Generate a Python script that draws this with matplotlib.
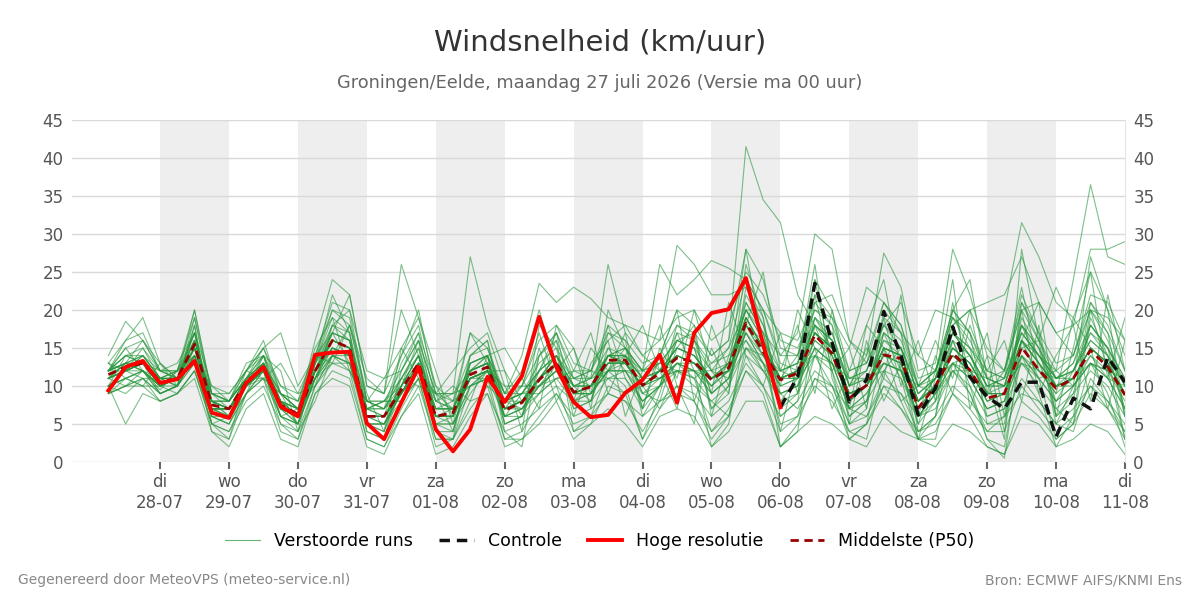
import numpy as np
import pandas as pd
import matplotlib
matplotlib.use('Agg')
import matplotlib.pyplot as plt
from matplotlib.lines import Line2D

# Tijdstappen van 6 uur, vanaf 27-07 06 UTC
tijden = pd.date_range('2026-07-27 06:00', periods=60, freq='6h')

# Hoge resolutie run (tot 06-08 00 uur)
hoge_resolutie = [9.4, 12.5, 13.3, 10.4, 10.9, 13.3, 6.5, 5.8, 10.4, 12.5, 7.3, 6.0, 14.1, 14.4, 14.5, 5.1,
                  3.0, 7.8, 12.5, 4.3, 1.4, 4.3, 11.2, 7.9, 11.3, 19.1, 12.5, 7.9, 5.9, 6.2, 9.1, 10.8,
                  14.1, 7.8, 17.0, 19.6, 20.1, 24.2, 15.5, 7.2]

# Controle run (zichtbaar vanaf 06-08 00 uur)
controle = [np.nan] * 39 + [7.2, 11.2, 23.5, 15.7, 7.9, 10.8, 19.8, 14.0, 6.2, 9.7, 17.8, 11.2, 8.6, 7.0,
                            10.5, 10.5, 3.3, 8.4, 7.0, 13.8, 10.5]

# Mediaan van de ensemble
middelste = [11.5, 12.5, 13, 10.5, 11, 15.5, 7.5, 7, 10.5, 12.5, 7.5, 6.3, 12, 16, 15, 6,
             6, 9.5, 13, 6, 6.5, 11.5, 12.5, 6.8, 7.8, 10.8, 13, 9.2, 9.9, 13.4, 13.4, 10.1,
             11.7, 13.7, 13.2, 10.8, 12.4, 18.3, 14.5, 10.8, 11.7, 16.7, 14.3, 8.4, 10.1, 14.1, 13.6, 7.1,
             10, 14.3, 12.1, 8.4, 9, 15.1, 12.1, 9.7, 11, 14.7, 12.5, 8.8]

# Verstoorde runs (ensemble leden)
leden = [
    [12, 14, 15, 11, 10, 18, 6, 5, 10, 13, 8, 5, 13, 18, 16, 5, 4, 11, 15, 5, 4, 13, 14, 5, 6, 12, 16, 10, 8, 15, 12, 8, 10, 16, 15, 9, 11, 22, 18, 9, 10, 19, 15, 7, 8, 17, 12, 6, 9, 16, 11, 7, 8, 18, 13, 8, 12, 17, 14, 7],
    [10, 11, 12, 9.5, 12, 14, 8, 8, 11, 12, 6, 7, 11, 14, 13, 7, 8, 8, 12, 7, 8, 10, 11, 8, 9, 9, 11, 12, 11, 12, 15, 12, 13, 12, 11, 13, 14, 16, 12, 12, 13, 14, 17, 10, 11, 12, 15, 9, 11, 13, 14, 10, 10, 13, 11, 12, 10, 13, 11, 10],
    [13, 16, 17, 12, 12, 20, 9, 9, 12, 15, 9, 7, 14, 21, 20, 8, 7, 14, 18, 8, 7, 17, 15, 9, 10, 16, 18, 13, 12, 18, 16, 13, 14, 20, 18, 14, 16, 28, 24, 15, 14, 24, 20, 12, 13, 21, 18, 10, 12, 20, 17, 12, 11, 22, 17, 13, 14, 21, 18, 12],
    [9, 10, 11, 8, 9, 12, 5, 4, 8, 10, 5, 3, 9, 12, 11, 3, 2, 6, 10, 3, 3, 8, 9, 4, 5, 7, 9, 6, 7, 9, 8, 6, 8, 10, 9, 6, 8, 13, 10, 6, 8, 12, 10, 5, 6, 10, 9, 4, 6, 10, 8, 5, 6, 11, 8, 5, 7, 10, 8, 5],
    [14, 18.5, 16, 12, 11, 17, 7, 6, 11, 14, 8, 6, 12, 17, 22, 10, 9, 26, 19, 10, 6, 12, 13, 6, 7, 11, 14, 11, 10, 14, 13, 10, 12, 15, 14, 11, 12, 19, 15, 11, 12, 17, 15, 9, 10, 15, 14, 8, 10, 15, 13, 9, 9, 16, 13, 10, 11, 15, 13, 9],
    [11, 13, 12, 10, 11, 16, 8, 7, 10, 12, 7, 6, 12, 15, 14, 6, 5, 9, 12, 8, 9, 27, 18, 12, 8, 10, 12, 9, 9, 12, 13, 10, 11, 13, 12, 10, 12, 17, 14, 10, 11, 16, 14, 8, 10, 14, 13, 7, 10, 14, 12, 8, 9, 15, 12, 9, 11, 14, 12, 8],
    [12, 12, 14, 11, 11, 15, 8, 7, 11, 13, 8, 7, 13, 16, 15, 7, 6, 10, 13, 7, 7, 12, 14, 9, 14, 23.5, 21, 23, 21.5, 19, 18, 17, 16, 19, 20, 16, 18, 25, 22, 16, 15, 20, 18, 12, 13, 18, 16, 10, 11, 17, 15, 11, 10, 18, 14, 11, 12, 17, 15, 11],
    [11, 12, 13, 11, 10, 15, 7, 7, 10, 12, 8, 6, 11, 16, 15, 6, 6, 9, 13, 6, 6, 11, 12, 7, 8, 11, 13, 10, 11, 26, 17, 14, 16, 28.5, 26, 22, 22, 23, 18, 12, 13, 19, 17, 10, 12, 18, 15, 9, 11, 17, 14, 10, 11, 17, 14, 11, 12, 16, 14, 10],
    [12, 13, 14, 11, 11, 16, 8, 8, 11, 13, 8, 7, 12, 17, 16, 7, 7, 10, 14, 7, 7, 12, 13, 8, 9, 12, 14, 10, 11, 14, 15, 12, 13, 16, 17, 14, 16, 41.5, 34.5, 31.5, 22, 18, 16, 11, 12, 17, 15, 10, 12, 17, 14, 10, 11, 18, 15, 11, 13, 18, 15, 11],
    [10, 11, 12, 10, 11, 14, 7, 7, 10, 12, 7, 6, 12, 15, 14, 6, 6, 9, 12, 6, 6, 11, 12, 7, 7, 10, 12, 9, 9, 13, 13, 10, 11, 13, 13, 10, 12, 18, 14, 10, 11, 16, 14, 8, 10, 14, 13, 7, 10, 14, 12, 8, 9, 16, 14, 12, 24, 36.5, 27, 26],
    [11, 12, 13, 10, 12, 17, 8, 6, 10, 13, 7, 6, 13, 17, 16, 6, 5, 10, 14, 6, 6, 12, 13, 7, 8, 11, 14, 9, 10, 14, 14, 11, 12, 15, 14, 11, 13, 20, 16, 11, 12, 18, 15, 9, 10, 16, 14, 8, 11, 17, 14, 9, 20, 31.5, 27, 21, 19, 25, 20, 14],
    [12, 13, 12, 10, 11, 15, 7, 7, 10, 12, 7, 6, 12, 16, 15, 6, 6, 9, 13, 6, 6, 11, 12, 7, 8, 11, 13, 9, 10, 14, 13, 10, 12, 14, 13, 11, 12, 19, 15, 11, 12, 18, 16, 10, 14, 27.5, 23, 12, 13, 28, 22, 14, 12, 20, 16, 11, 13, 20, 16, 10],
    [11, 12, 13, 10, 11, 15, 8, 7, 10, 12, 8, 6, 12, 16, 15, 6, 6, 9, 13, 6, 6, 11, 12, 7, 8, 11, 13, 9, 10, 13, 13, 10, 12, 14, 13, 11, 13, 20, 17, 14, 17, 30, 28, 16, 14, 21, 18, 11, 12, 19, 17, 11, 10, 18, 15, 10, 12, 18, 15, 10],
    [10, 11, 12, 9, 10, 14, 4, 3, 9, 12, 5, 4, 10, 14, 13, 4, 3, 8, 11, 3, 3, 10, 11, 3, 4, 8, 10, 4, 5, 10, 9, 3, 7, 10, 8, 3, 6, 12, 9, 2, 5, 11, 9, 3, 5, 10, 7, 3, 4, 9, 6, 2, 1, 8, 6, 3, 5, 9, 7, 3],
    [9, 10, 11, 9, 10, 13, 5, 4, 9, 11, 4, 3, 10, 13, 12, 3, 2, 7, 11, 2, 3, 7, 10, 3, 3, 6, 9, 5, 6, 9, 8, 4, 8, 9, 8, 4, 7, 12, 10, 4, 6, 10, 8, 4, 5, 9, 7, 4, 5, 9, 7, 4, 4, 10, 7, 4, 6, 10, 7, 4],
    [12, 15, 16, 12, 12, 19, 9, 8, 12, 14, 9, 8, 14, 20, 18, 8, 8, 12, 16, 9, 8, 14, 15, 8, 10, 14, 17, 12, 12, 17, 15, 12, 14, 18, 16, 12, 15, 24, 20, 14, 14, 22, 19, 11, 12, 19, 17, 10, 12, 19, 16, 11, 12, 21, 16, 12, 14, 20, 17, 12],
    [13, 12, 11, 11, 12, 14, 9, 8, 11, 11, 9, 8, 11, 13, 13, 8, 8, 8, 12, 9, 9, 10, 12, 10, 10, 10, 11, 11, 12, 11, 12, 12, 11, 12, 12, 12, 11, 15, 14, 12, 11, 14, 13, 11, 11, 13, 12, 10, 9, 12, 12, 11, 10, 13, 12, 11, 11, 13, 12, 11],
    [10, 14, 13, 9, 10, 18, 5, 3, 11, 14, 6, 4, 13, 19, 17, 4, 3, 12, 16, 4, 3, 14, 16, 5, 6, 14, 17, 7, 8, 17, 16, 6, 10, 18, 17, 7, 9, 23, 19, 6, 8, 21, 18, 5, 7, 20, 17, 4, 6, 20, 17, 5, 5, 21, 17, 6, 8, 21, 17, 6],
    [11, 12, 14, 11, 10, 14, 7, 6, 10, 13, 7, 5, 11, 15, 14, 5, 5, 9, 12, 5, 6, 12, 13, 6, 7, 10, 13, 8, 9, 12, 14, 9, 11, 13, 12, 9, 11, 17, 13, 9, 10, 15, 13, 7, 9, 13, 12, 6, 9, 13, 11, 7, 8, 14, 11, 8, 10, 13, 11, 7],
    [12, 16, 19, 13, 11, 20, 9, 8, 11, 13, 9, 7, 13, 20, 19, 8, 7, 11, 15, 8, 7, 13, 14, 9, 9, 13, 15, 11, 11, 15, 14, 11, 13, 16, 15, 12, 13, 20, 16, 12, 13, 18, 16, 10, 11, 16, 15, 9, 11, 16, 14, 10, 10, 17, 14, 11, 12, 16, 14, 10],
    [10, 5, 9, 8, 9, 12, 6, 5, 9, 11, 6, 5, 11, 14, 13, 5, 5, 8, 11, 5, 5, 10, 11, 6, 6, 9, 11, 8, 8, 11, 11, 8, 10, 12, 11, 8, 10, 15, 12, 8, 9, 14, 12, 6, 8, 12, 11, 6, 8, 12, 10, 6, 7, 13, 10, 7, 9, 12, 10, 6],
    [12, 13, 13, 11, 11, 16, 7, 7, 11, 13, 9, 7, 16, 24, 22, 10, 9, 14, 20, 9, 7, 13, 14, 8, 8, 12, 14, 10, 10, 14, 15, 11, 12, 15, 14, 11, 12, 19, 15, 11, 11, 17, 15, 9, 10, 15, 14, 8, 10, 15, 13, 9, 9, 16, 13, 10, 11, 15, 13, 9],
    [11, 12, 13, 10, 11, 15, 8, 7, 10, 12, 7, 6, 12, 16, 15, 6, 6, 9, 13, 6, 6, 11, 12, 7, 8, 11, 13, 9, 10, 13, 14, 12, 26, 22, 24, 26.5, 25.5, 24, 20, 13, 12, 17, 15, 9, 10, 15, 14, 8, 10, 15, 13, 9, 9, 16, 13, 10, 11, 15, 13, 9],
    [12, 13, 13, 11, 12, 16, 8, 7, 10, 13, 8, 6, 12, 16, 15, 6, 6, 10, 13, 6, 6, 12, 13, 7, 8, 11, 13, 9, 10, 14, 13, 10, 12, 14, 13, 10, 13, 19, 15, 11, 12, 17, 15, 9, 10, 15, 14, 8, 11, 18, 20, 21, 22, 27, 21, 17, 18, 28, 28, 29],
    [9, 10, 10, 8, 9, 11, 4, 2, 7, 9, 3, 2, 9, 11, 10, 2, 1, 6, 9, 1, 2, 6, 9, 2, 3, 5, 8, 3, 5, 7, 5, 2, 6, 7, 6, 2, 4, 8, 8, 2, 4, 6, 5, 3, 2, 6, 4, 3, 2, 5, 4, 2, 1, 6, 5, 2, 3, 5, 4, 1],
    [11, 13, 14, 11, 11, 17, 7, 6, 10, 14, 7, 5, 12, 18, 17, 5, 4, 10, 14, 4, 4, 12, 13, 5, 6, 11, 14, 7, 8, 14, 14, 7, 10, 16, 15, 7, 10, 21, 17, 7, 9, 19, 16, 6, 8, 17, 15, 5, 8, 17, 15, 6, 7, 19, 15, 6, 9, 18, 15, 6],
    [12, 13, 12, 10, 10, 14, 8, 8, 11, 12, 8, 7, 12, 15, 14, 7, 7, 9, 12, 7, 7, 11, 11, 8, 9, 10, 12, 10, 10, 12, 12, 11, 11, 12, 12, 11, 12, 16, 13, 11, 11, 15, 13, 9, 10, 13, 12, 8, 10, 13, 12, 9, 9, 14, 12, 10, 10, 13, 12, 9],
    [11, 12, 13, 11, 11, 15, 7, 7, 10, 12, 7, 6, 12, 16, 15, 6, 6, 9, 13, 6, 6, 11, 12, 7, 8, 11, 13, 9, 10, 13, 13, 10, 12, 14, 13, 11, 12, 18, 14, 11, 12, 17, 14, 8, 10, 14, 13, 7, 10, 14, 12, 8, 9, 15, 16, 23, 18, 20, 19, 16],
    [11, 12, 13, 10, 11, 15, 8, 7, 10, 12, 8, 6, 12, 16, 15, 6, 6, 9, 13, 6, 6, 11, 12, 7, 8, 11, 13, 9, 10, 13, 13, 10, 12, 14, 13, 11, 12, 18, 15, 11, 14, 20, 19, 15, 23, 21, 17, 14, 20, 19, 15, 12, 11, 17, 14, 10, 11, 15, 13, 9],
    [10, 12, 12, 9, 10, 14, 6, 6, 9, 12, 6, 5, 11, 15, 14, 5, 5, 9, 12, 5, 5, 10, 12, 6, 7, 10, 12, 8, 9, 12, 12, 9, 10, 13, 12, 9, 11, 17, 13, 9, 10, 15, 13, 7, 9, 13, 12, 6, 9, 13, 11, 7, 8, 14, 11, 8, 10, 14, 11, 7],
    [12, 14, 13, 12, 11, 16, 9, 8, 12, 15, 17, 10, 14, 17, 16, 8, 7, 11, 14, 7, 7, 12, 13, 8, 9, 12, 14, 10, 10, 14, 14, 11, 12, 15, 14, 11, 13, 19, 15, 11, 12, 17, 15, 9, 10, 15, 14, 8, 10, 15, 13, 9, 10, 16, 13, 10, 11, 15, 13, 9],
    [11, 12, 13, 10, 11, 15, 7, 7, 10, 12, 7, 6, 12, 16, 15, 6, 6, 9, 13, 6, 6, 11, 12, 7, 8, 11, 13, 9, 9, 12, 12, 8, 10, 13, 11, 4, 6, 15, 13, 5, 6, 14, 10, 4, 3, 12, 8, 3, 3, 13, 9, 3, 0.5, 16, 11, 3, 5, 13, 9, 2],
    [10, 12, 15, 12, 13, 17, 10, 9, 12, 11, 13, 9, 10, 18, 20, 12, 11, 15, 11, 9, 12, 15, 17, 10, 6, 15, 8, 12, 17, 9, 14, 18, 12, 7, 16, 9, 21, 14, 10, 17, 9, 22, 12, 15, 7, 19, 10, 16, 8, 21, 11, 17, 6, 20, 9, 14, 18, 8, 22, 12],
    [13, 11, 10, 13, 11, 13, 10, 8, 13, 14, 10, 9, 14, 13, 18, 11, 9, 20, 14, 8, 10, 8, 14, 15, 11, 7, 18, 15, 9, 18, 11, 7, 14, 20, 8, 15, 10, 18, 25, 12, 18, 9, 20, 10, 15, 11, 22, 6, 14, 9, 18, 12, 16, 8, 18, 6, 15, 25, 11, 19],
    [10, 9, 11, 9, 10, 13, 6, 5, 9, 14, 12, 4, 8, 14, 18, 9, 4, 15, 19, 12, 5, 9, 12, 12, 4, 18, 15, 6, 13, 16, 6, 12, 18, 10, 5, 18, 12, 28, 15, 4, 13, 26, 11, 5, 16, 8, 13, 3, 11, 24, 7, 14, 4, 16, 21, 7, 5, 19, 14, 3],
    [12, 15, 12, 11, 12, 15, 9, 7, 11, 15, 10, 8, 15, 19, 12, 8, 11, 12, 17, 10, 8, 17, 13, 9, 12, 20, 12, 15, 7, 20, 15, 9, 8, 15, 18, 6, 14, 21, 17, 10, 20, 15, 7, 12, 18, 15, 8, 10, 16, 11, 20, 9, 12, 23, 12, 9, 19, 15, 7, 16],
    [11, 13, 16, 13, 10, 19, 8, 6, 12, 16, 9, 5, 13, 22, 17, 7, 6, 13, 17, 6, 5, 14, 16, 7, 10, 17, 10, 8, 15, 12, 17, 7, 15, 11, 20, 12, 9, 26, 19, 8, 11, 24, 13, 7, 18, 24, 12, 5, 12, 20, 24, 11, 3, 28, 16, 5, 10, 27, 20, 6],
    [9, 11, 10, 10, 9, 12, 5, 6, 10, 11, 9, 7, 10, 14, 12, 7, 8, 11, 10, 9, 9, 12, 10, 8, 7, 9, 13, 8, 10, 11, 9, 10, 7, 12, 10, 8, 6, 14, 12, 9, 7, 11, 10, 7, 6, 11, 9, 6, 7, 12, 9, 4, 6, 9, 8, 5, 4, 11, 8, 4],
    [12, 14, 14, 12, 11, 17, 7, 7, 11, 12, 6, 5, 11, 17, 13, 5, 3, 10, 16, 9, 4, 13, 14, 4, 2, 14, 16, 4, 6, 12, 10, 3, 9, 17, 12, 2, 5, 18, 16, 2, 4, 18, 12, 3, 5, 15, 11, 3, 6, 16, 10, 3, 2, 14, 9, 2, 6, 20, 12, 3],
    [11, 10, 12, 10, 11, 14, 7, 7, 10, 13, 8, 7, 12, 14, 14, 7, 8, 10, 14, 6, 7, 12, 14, 6, 9, 12, 17, 11, 12, 16, 18, 14, 12, 17, 16, 13, 15, 20, 20, 17, 16, 21, 22, 16, 13, 18, 21, 14, 12, 18, 20, 15, 12, 20, 21, 17, 14, 22, 21, 16],
]

dagnamen = ['ma', 'di', 'wo', 'do', 'vr', 'za', 'zo']
tick_dagen = pd.date_range('2026-07-28', '2026-08-11', freq='D')

groen = '#27963c'

fig = plt.figure(figsize=(12, 6), dpi=100)
ax = fig.add_axes([0.06, 0.23, 0.8775, 0.57])

# grijze banden voor om-en-om dagen
for d in tick_dagen[:-1:2]:
    ax.axvspan(d, d + pd.Timedelta(days=1), color='#eeeeee', zorder=0, lw=0)

for lid in leden:
    ax.plot(tijden, lid, color=groen, lw=0.8, alpha=0.6, zorder=2)

ax.plot(tijden, middelste, color='#990000', lw=2, ls=(0, (3, 2)), zorder=4)
ax.plot(tijden, controle, color='#111111', lw=2.5, ls=(0, (3, 2)), zorder=5)
ax.plot(tijden[:len(hoge_resolutie)], hoge_resolutie, color='#ff0000', lw=2.8, zorder=6)

ax.set_ylim(0, 45)
ax.set_yticks(range(0, 46, 5))
ax.set_xlim(pd.Timestamp('2026-07-26 17:20'), pd.Timestamp('2026-08-11 00:00'))
ax.set_xticks(tick_dagen)
ax.set_xticklabels([f"{dagnamen[d.weekday()]}\n{d:%d-%m}" for d in tick_dagen])
ax.grid(axis='y', color='#d9d9d9', lw=1)
ax.set_axisbelow(True)
ax.tick_params(axis='x', length=5, width=1.5, color='#666666', labelsize=12, labelcolor='#555555', pad=3)
ax.tick_params(axis='y', length=0, labelsize=12, labelcolor='#555555', pad=6)
for s in ['top', 'left', 'bottom']:
    ax.spines[s].set_visible(False)
ax.spines['right'].set_color('#e6e6e6')

ax2 = ax.twinx()
ax2.set_ylim(0, 45)
ax2.set_yticks(range(0, 46, 5))
ax2.tick_params(axis='y', length=0, labelsize=12, labelcolor='#555555', pad=6)
for s in ax2.spines.values():
    s.set_visible(False)

handles = [
    Line2D([], [], color=groen, lw=0.8, alpha=0.7),
    Line2D([], [], color='#111111', lw=2.5, ls=(0, (3, 2))),
    Line2D([], [], color='#ff0000', lw=2.8),
    Line2D([], [], color='#990000', lw=2, ls=(0, (3, 2))),
]
fig.legend(handles, ['Verstoorde runs', 'Controle', 'Hoge resolutie', 'Middelste (P50)'],
           loc='center', bbox_to_anchor=(0.5, 0.098), ncol=4, frameon=False,
           fontsize=12.5, handlelength=2, columnspacing=1.5)

fig.text(0.5, 0.93, 'Windsnelheid (km/uur)', ha='center', va='center', fontsize=21, color='#333333')
fig.text(0.5, 0.862, 'Groningen/Eelde, maandag 27 juli 2026 (Versie ma 00 uur)', ha='center', va='center',
         fontsize=12.75, color='#666666')
fig.text(0.015, 0.033, 'Gegenereerd door MeteoVPS (meteo-service.nl)', ha='left', va='center',
         fontsize=10, color='#888888')
fig.text(0.985, 0.033, 'Bron: ECMWF AIFS/KNMI Ens', ha='right', va='center', fontsize=10, color='#888888')

fig.savefig('out.png', dpi=100)
